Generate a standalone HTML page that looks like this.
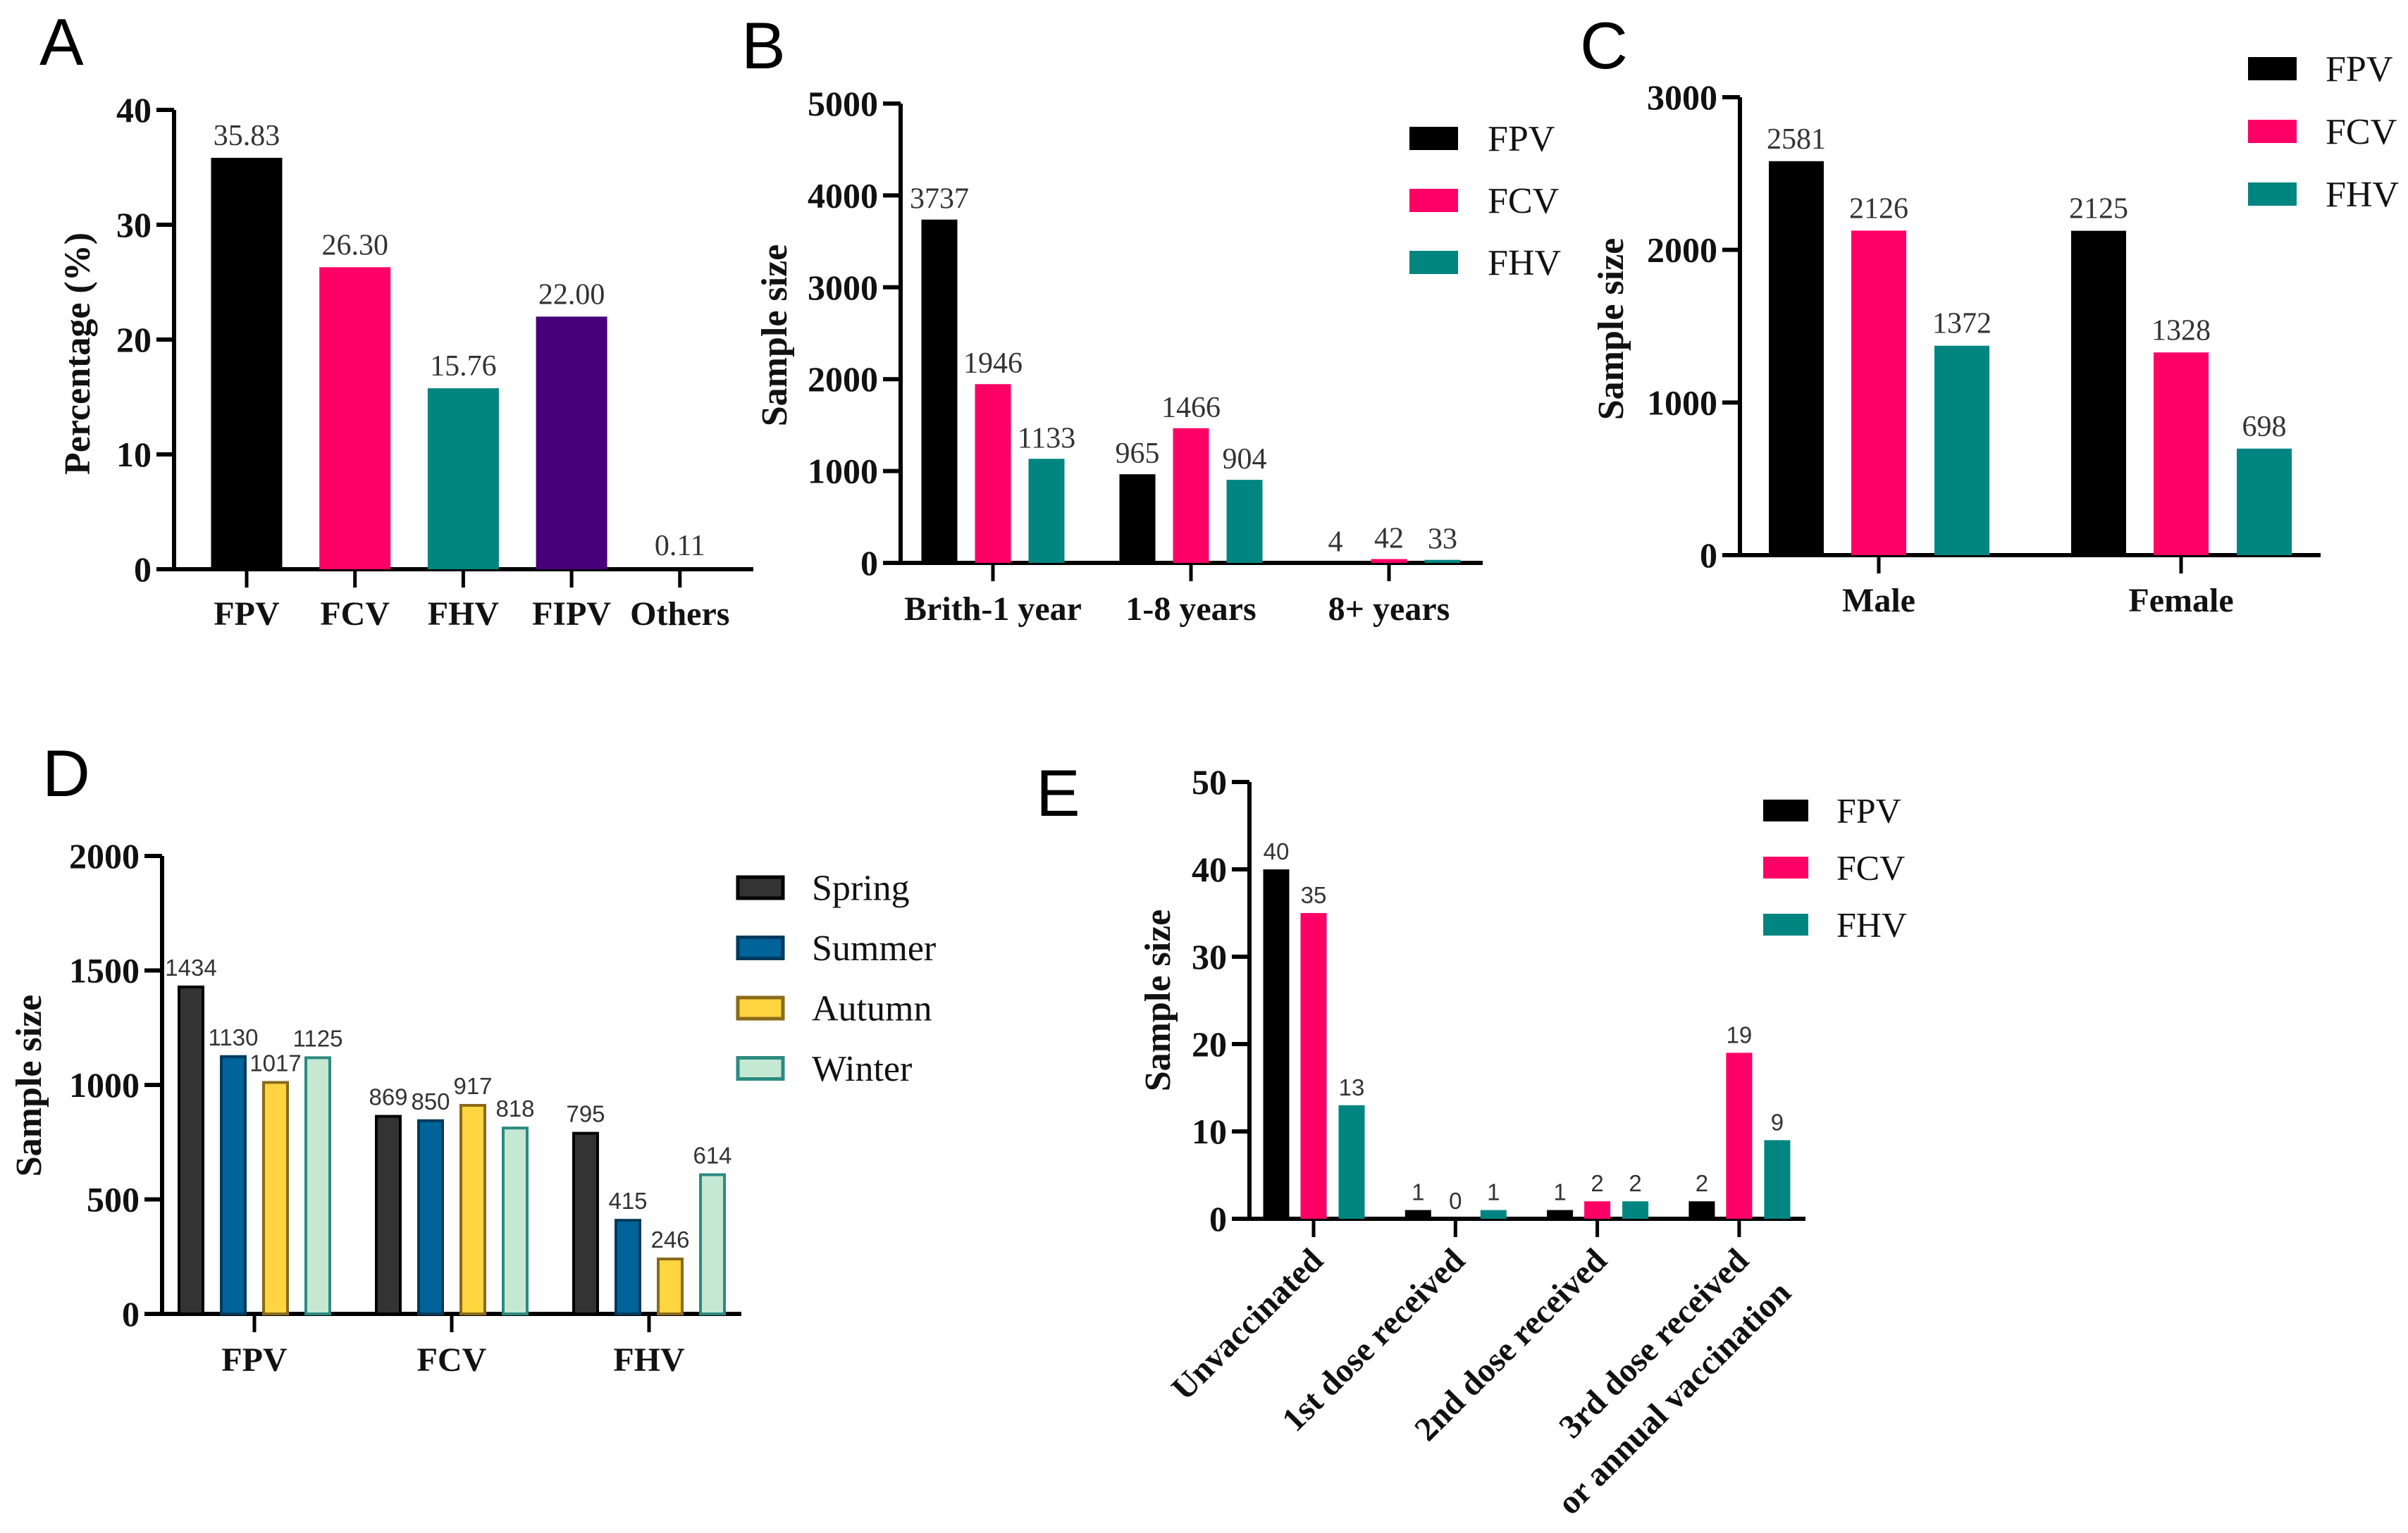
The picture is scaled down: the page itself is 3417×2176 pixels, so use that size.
<!DOCTYPE html>
<html><head><meta charset="utf-8"><style>
html,body{margin:0;padding:0;background:#fff;}
svg{display:block;}
</style></head><body>
<svg id="fig" xmlns="http://www.w3.org/2000/svg" width="3417" height="2176" viewBox="0 0 3417 2176">
<rect width="3417" height="2176" fill="#fff"/>
</svg>
<script>
// ---------- data ----------
const catsA = ["FPV","FCV","FHV","FIPV","Others"];
const valsA = [35.83,26.30,15.76,22.00,0.11];
const labelsA = ["35.83","26.30","15.76","22.00","0.11"];
const ticksA = [0,10,20,30,40];

const catsB = ["Brith-1 year","1-8 years","8+ years"];
const fpvB = [3737,965,4];
const fcvB = [1946,1466,42];
const fhvB = [1133,904,33];
const ticksB = [0,1000,2000,3000,4000,5000];

const catsC = ["Male","Female"];
const fpvC = [2581,2125];
const fcvC = [2126,1328];
const fhvC = [1372,698];
const ticksC = [0,1000,2000,3000];

const catsD = ["FPV","FCV","FHV"];
const springD = [1434,869,795];
const summerD = [1130,850,415];
const autumnD = [1017,917,246];
const winterD = [1125,818,614];
const ticksD = [0,500,1000,1500,2000];

const catsE = [["Unvaccinated"],["1st dose received"],["2nd dose received"],["3rd dose received","or annual vaccination"]];
const fpvE = [40,1,1,2];
const fcvE = [35,0,2,19];
const fhvE = [13,1,2,9];
const ticksE = [0,10,20,30,40,50];

// ---------- helpers ----------
const NS = "http://www.w3.org/2000/svg";
const svg = document.getElementById('fig');
function mk(tag, attrs, parent){
  const e = document.createElementNS(NS, tag);
  for (const k in attrs) e.setAttribute(k, attrs[k]);
  (parent||svg).appendChild(e);
  return e;
}
const SERIF = "'Liberation Serif', serif";
const SANS = "'Liberation Sans', sans-serif";

function panelLetter(t, x, y){
  const e = mk('text', {x:x, y:y, 'font-family':SANS, 'font-size':94, fill:'#000'});
  e.textContent = t;
  
  
}

function yAxis(g, o){
  const ys = v => o.y0 - (v / o.yMax) * (o.y0 - o.yTop);
  const ax = mk('line', {x1:o.ax, y1:o.yTop, x2:o.ax, y2:o.y0 + 3, stroke:'#000', 'stroke-width':6}, g);
  
  
  const xa = mk('line', {x1:o.ax - 25, y1:o.y0, x2:o.xEnd, y2:o.y0, stroke:'#000', 'stroke-width':6}, g);
  
  
  o.ticks.forEach(t => {
    const y = ys(t);
    const tk = mk('line', {x1:o.ax - 25, y1:y, x2:o.ax, y2:y, stroke:'#000', 'stroke-width':6}, g);
    
    
    const lb = mk('text', {x:o.ax - 32, y:y + 17, 'text-anchor':'end', 'font-family':SERIF, 'font-weight':'bold', 'font-size':o.tickFs||50, fill:'#111'}, g);
    lb.textContent = t;
    
    
  });
  const tt = mk('text', {x:o.titleX + 18, y:o.titleY, 'text-anchor':'middle', transform:'rotate(-90 ' + (o.titleX + 18) + ' ' + o.titleY + ')', 'font-family':SERIF, 'font-weight':'bold', 'font-size':52, fill:'#111'}, g);
  tt.textContent = o.title;
  
  
  return ys;
}

function legend(g, items, x, y0, dy, sw, sh, textX, fs){
  items.forEach((it, i) => {
    const y = y0 + i * dy;
    const r = mk('rect', {x:x, y:y, width:sw, height:sh, fill:it.fill, stroke:it.stroke||'none', 'stroke-width':it.stroke?5:0}, g);
    
    
    const t = mk('text', {x:textX, y:y + sh/2 + fs*0.34, 'font-family':SERIF, 'font-size':fs, fill:'#111'}, g);
    t.textContent = it.name;
    
    
  });
}

function bars(g, o, ys, series, cats){
  cats.forEach((c, ci) => {
    const cx = o.c0 + ci * o.cStep;
    series.forEach((s, si) => {
      const v = s.vals[ci];
      const bx = cx + o.offsets[si] - o.bw/2;
      const top = ys(v);
      const hh = o.y0 - top;
      const fill = s.fills ? s.fills[ci] : s.fill;
      if (hh > 0.5) {
        const sw = s.stroke ? 4 : 0;
        const r = mk('rect', {x:bx + sw/2, y:top + sw/2, width:o.bw - sw, height:Math.max(hh - sw/2, 0), fill:fill, stroke:s.stroke||'none', 'stroke-width':sw}, g);
        
        
      }
      const lab = mk('text', {x:cx + o.offsets[si], y:top - o.lblOff, 'text-anchor':'middle', 'font-family':o.lblFont, 'font-size':o.lblFs, fill:'#333'}, g);
      lab.textContent = s.labels ? s.labels[ci] : v;
      
      
    });
    const tk = mk('line', {x1:cx, y1:o.y0, x2:cx, y2:o.y0 + 26, stroke:'#000', 'stroke-width':5}, g);
    
    
    if (!o.rotated) {
      const t = mk('text', {x:cx, y:o.catY, 'text-anchor':'middle', 'font-family':SERIF, 'font-weight':'bold', 'font-size':48, fill:'#111'}, g);
      t.textContent = c;
      
      
    } else {
      c.forEach((line, li) => {
        const ex = cx + 16 + li * 60, ey = o.y0 + 62 + li * 46;
        const t = mk('text', {x:ex, y:ey, 'text-anchor':'end', transform:'rotate(-45 ' + ex + ' ' + ey + ')', 'font-family':SERIF, 'font-weight':'bold', 'font-size':48, fill:'#111'}, g);
        t.textContent = line;
        
        
      });
    }
  });
}

const BLACK = '#000000', PINK = '#ff0066', TEAL = '#008580', PURPLE = '#48007a';

// ---------- Panel A ----------
(function(){
  const g = mk('g', {});
  
  
  panelLetter('A', 56, 92);
  const o = {ax:247, xEnd:1069, y0:808, yTop:156, yMax:40, ticks:ticksA, titleX:109, titleY:502, title:'Percentage (%)'};
  const ys = yAxis(g, o);
  bars(g, {c0:350, cStep:153.7, offsets:[0], bw:101, y0:808, lblOff:18, lblFont:SERIF, lblFs:42, catY:887},
    ys, [{vals:valsA, fills:[BLACK,PINK,TEAL,PURPLE,'none'], labels:labelsA, name:'a'}], catsA);
})();

// ---------- Panel B ----------
(function(){
  const g = mk('g', {});
  
  
  panelLetter('B', 1052, 97);
  const o = {ax:1278, xEnd:2104, y0:799, yTop:147, yMax:5000, ticks:ticksB, titleX:1098, titleY:476, title:'Sample size'};
  const ys = yAxis(g, o);
  bars(g, {c0:1409, cStep:281, offsets:[-76,0,76], bw:51, y0:799, lblOff:16, lblFont:SERIF, lblFs:42, catY:880},
    ys, [{vals:fpvB, fill:BLACK, name:'fpv'},{vals:fcvB, fill:PINK, name:'fcv'},{vals:fhvB, fill:TEAL, name:'fhv'}], catsB);
  legend(g, [{name:'FPV', fill:BLACK},{name:'FCV', fill:PINK},{name:'FHV', fill:TEAL}], 2000, 180, 88, 69, 33, 2111, 52);
})();

// ---------- Panel C ----------
(function(){
  const g = mk('g', {});
  
  
  panelLetter('C', 2242, 97);
  const o = {ax:2469, xEnd:3293, y0:788, yTop:138, yMax:3000, ticks:ticksC, titleX:2285, titleY:467, title:'Sample size'};
  const ys = yAxis(g, o);
  bars(g, {c0:2666, cStep:429, offsets:[-117,0,118], bw:78, y0:788, lblOff:18, lblFont:SERIF, lblFs:42, catY:868},
    ys, [{vals:fpvC, fill:BLACK, name:'fpv'},{vals:fcvC, fill:PINK, name:'fcv'},{vals:fhvC, fill:TEAL, name:'fhv'}], catsC);
  legend(g, [{name:'FPV', fill:BLACK},{name:'FCV', fill:PINK},{name:'FHV', fill:TEAL}], 3190, 81, 89, 69, 33, 3300, 52);
})();

// ---------- Panel D ----------
(function(){
  const g = mk('g', {});
  
  
  panelLetter('D', 60, 1130);
  const o = {ax:230, xEnd:1052, y0:1865, yTop:1215, yMax:2000, ticks:ticksD, titleX:40, titleY:1541, title:'Sample size'};
  const ys = yAxis(g, o);
  bars(g, {c0:361, cStep:280, offsets:[-90,-30,30,90], bw:38, y0:1865, lblOff:14, lblFont:SANS, lblFs:33, catY:1946},
    ys, [{vals:springD, fill:'#333333', stroke:'#000', name:'spring'},
         {vals:summerD, fill:'#00639a', stroke:'#003a5c', name:'summer'},
         {vals:autumnD, fill:'#ffd540', stroke:'#8a6a1a', name:'autumn'},
         {vals:winterD, fill:'#c5e8d2', stroke:'#2b8a80', name:'winter'}], catsD);
  legend(g, [{name:'Spring', fill:'#333333', stroke:'#000'},{name:'Summer', fill:'#00639a', stroke:'#003a5c'},
             {name:'Autumn', fill:'#ffd540', stroke:'#8a6a1a'},{name:'Winter', fill:'#c5e8d2', stroke:'#2b8a80'}],
         1047, 1245, 85.5, 64, 30, 1152, 52);
})();

// ---------- Panel E ----------
(function(){
  const g = mk('g', {});
  
  
  panelLetter('E', 1470, 1158);
  const o = {ax:1773, xEnd:2562, y0:1730, yTop:1110, yMax:50, ticks:ticksE, titleX:1642, titleY:1420, title:'Sample size'};
  const ys = yAxis(g, o);
  bars(g, {c0:1864, cStep:201.3, offsets:[-53,0,54], bw:37, y0:1730, lblOff:14, lblFont:SANS, lblFs:33, rotated:true},
    ys, [{vals:fpvE, fill:BLACK, name:'fpv'},{vals:fcvE, fill:PINK, name:'fcv'},{vals:fhvE, fill:TEAL, name:'fhv'}], catsE);
  legend(g, [{name:'FPV', fill:BLACK},{name:'FCV', fill:PINK},{name:'FHV', fill:TEAL}], 2502, 1135, 81, 64, 31, 2606, 50);
})();
</script>
</body></html>
